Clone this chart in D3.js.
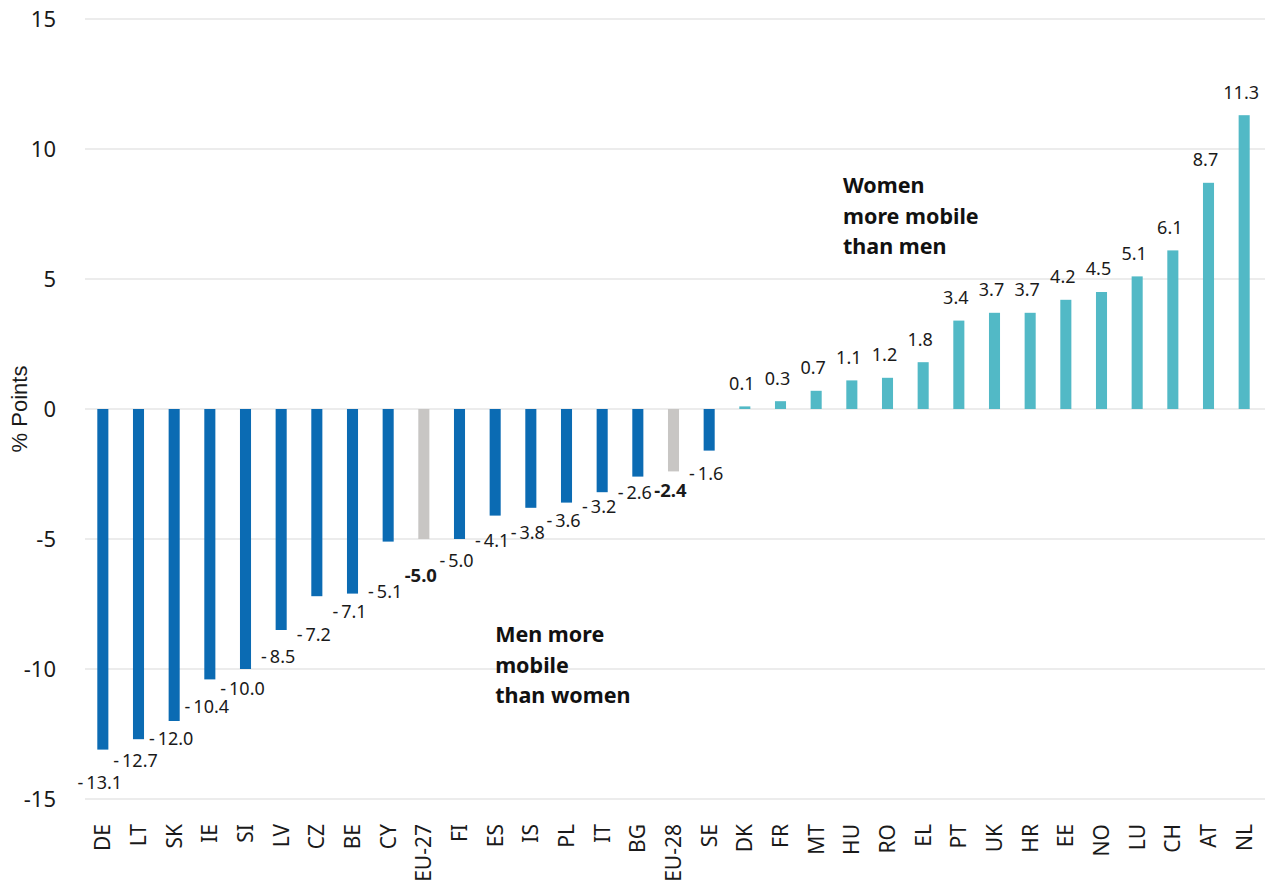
<!DOCTYPE html>
<html>
<head>
<meta charset="utf-8">
<script src="https://cdn.jsdelivr.net/npm/d3@7/dist/d3.min.js"></script>
<style>
  html, body { margin: 0; padding: 0; background: #ffffff; }
  svg { display: block; }
</style>
</head>
<body>
<svg id="chart" width="1272" height="892"></svg>
<script>
// ---- data ----
const categories = ["DE","LT","SK","IE","SI","LV","CZ","BE","CY","EU-27","FI","ES","IS","PL","IT","BG","EU-28","SE","DK","FR","MT","HU","RO","EL","PT","UK","HR","EE","NO","LU","CH","AT","NL"];
const values = [-13.1,-12.7,-12.0,-10.4,-10.0,-8.5,-7.2,-7.1,-5.1,-5.0,-5.0,-4.1,-3.8,-3.6,-3.2,-2.6,-2.4,-1.6,0.1,0.3,0.7,1.1,1.2,1.8,3.4,3.7,3.7,4.2,4.5,5.1,6.1,8.7,11.3];
const aggregates = ["EU-27","EU-28"];
const yTicks = [-15,-10,-5,0,5,10,15];
const yTitle = "% Points";
const noteWomen = ["Women","more mobile","than men"];
const noteMen = ["Men more","mobile","than women"];

// label placement nudges for negative-value labels (px below bar end), mimicking the reference layout
const negLabelNudge = [33,21,18,27,20,27,38,18,50,36,22,25,25,18,14,16,19,23];

// ---- layout ----
const W = 1272, H = 892;
const plot = {left: 85, right: 1262, top: 19, bottom: 799};
const colNeg = "#0b6bb3", colPos = "#52b9c6", colAgg = "#c8c6c4";

const svg = d3.select("#chart");

const x = d3.scaleBand().domain(categories).range([plot.left, plot.right]).padding(0);
const y = d3.scaleLinear().domain([-15, 15]).range([plot.bottom, plot.top]);
const barW = x.bandwidth() * 0.31;
const cx = c => x(c) + x.bandwidth() / 2;

// gridlines
svg.append("g").selectAll("line").data(yTicks).join("line")
  .attr("x1", plot.left).attr("x2", 1265)
  .attr("y1", d => y(d)).attr("y2", d => y(d))
  .attr("stroke", "#d9d9d9").attr("stroke-width", 1);

// y axis tick labels
svg.append("g").selectAll("text").data(yTicks).join("text")
  .attr("x", 56).attr("y", d => y(d)).attr("dy", "0.36em")
  .attr("text-anchor", "end")
  .attr("font-family", "Noto Sans, sans-serif").attr("font-size", 22)
  .attr("fill", "#1a1a1a")
  .text(d => d < 0 ? "-" + Math.abs(d) : d);

// y title
svg.append("text")
  .attr("transform", `translate(27, ${y(0)}) rotate(-90)`)
  .attr("text-anchor", "middle")
  .attr("font-family", "Liberation Sans, sans-serif").attr("font-size", 22)
  .attr("fill", "#1a1a1a")
  .text(yTitle);

const data = categories.map((c, i) => ({c, v: values[i], i}));

// bars
svg.append("g").selectAll("rect").data(data).join("rect")
  .attr("x", d => cx(d.c) - barW / 2)
  .attr("width", barW)
  .attr("y", d => Math.min(y(d.v), y(0)))
  .attr("height", d => Math.abs(y(d.v) - y(0)))
  .attr("fill", d => aggregates.includes(d.c) ? colAgg : (d.v < 0 ? colNeg : colPos));

// value labels
svg.append("g").selectAll("text").data(data).join("text")
  .attr("x", d => cx(d.c) - 3)
  .attr("y", d => d.v < 0 ? y(d.v) + negLabelNudge[d.i] : y(d.v) - 23)
  .attr("dy", "0.36em")
  .attr("text-anchor", "middle")
  .attr("font-family", "Noto Sans, sans-serif")
  .attr("font-size", d => aggregates.includes(d.c) ? 18.5 : 18)
  .attr("font-weight", d => aggregates.includes(d.c) ? "bold" : "normal")
  .attr("fill", "#1a1a1a")
  .text(d => {
    const s = Math.abs(d.v).toFixed(1);
    if (d.v >= 0) return s;
    return aggregates.includes(d.c) ? "-" + s : "-\u2009" + s;
  });

// x axis labels (rotated)
svg.append("g").selectAll("text").data(categories).join("text")
  .attr("transform", c => `translate(${cx(c)}, 824) rotate(-90)`)
  .attr("dy", "0.36em")
  .attr("text-anchor", "end")
  .attr("font-family", "Noto Sans, sans-serif").attr("font-size", 21)
  .attr("fill", "#1a1a1a")
  .text(c => c);

// annotations
function note(lines, x0, y0) {
  svg.append("g").selectAll("text").data(lines).join("text")
    .attr("x", x0).attr("y", (d, i) => y0 + i * 30.5)
    .attr("font-family", "Noto Sans, sans-serif").attr("font-size", 21.5)
    .attr("font-weight", "bold").attr("fill", "#111")
    .text(d => d);
}
note(noteWomen, x("HU") + 9, 193);
note(noteMen, cx("ES"), 642);
</script>
</body>
</html>
